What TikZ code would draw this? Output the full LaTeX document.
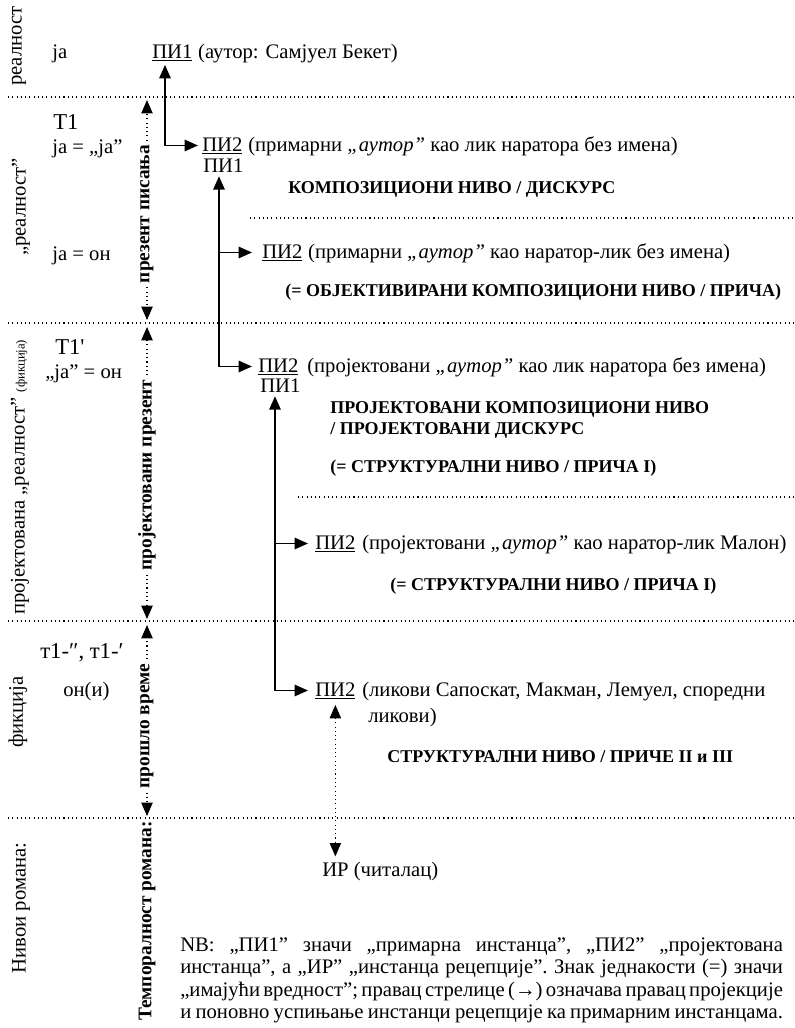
\documentclass[tikz,border=0pt]{standalone}
\usepackage{fontspec}
\setmainfont{Liberation Serif}
\usetikzlibrary{arrows.meta,calc}
\newcommand{\nbline}[1]{{\frenchspacing\spaceskip=0.12em plus 3em minus 0.08em\makebox[452pt][s]{#1}}}
\begin{document}
\begin{tikzpicture}[x=0.75pt,y=-0.75pt,
  txt/.style={font=\fontsize{15.5}{18}\selectfont, inner sep=0pt, anchor=base west},
  big/.style={font=\fontsize{17}{20}\selectfont, inner sep=0pt, anchor=base west},
  bld/.style={font=\fontsize{13.5}{16}\selectfont\bfseries, inner sep=0pt, anchor=base west},
  side/.style={font=\fontsize{15.5}{18}\selectfont, inner sep=0pt, rotate=90},
  axislbl/.style={font=\fontsize{14.5}{17}\selectfont\bfseries, inner ysep=0pt, inner xsep=3pt, rotate=90},
  dotline/.style={line width=0.8pt, dash pattern=on 0.8pt off 2.4pt},
  conn/.style={line width=1.4pt},
  >={Triangle[length=10pt,width=8.5pt]}]
\useasboundingbox (0,0) rectangle (794,1028);

% horizontal dotted separators
\draw[dotline] (8,97) -- (794,97);
\draw[dotline] (250,218) -- (794,218);
\draw[dotline] (8,323) -- (794,323);
\draw[dotline] (298,497) -- (794,497);
\draw[dotline] (8,621) -- (794,621);
\draw[dotline] (8,818) -- (794,818);

% left column: levels
\node[side] (lv1) at (19,46) {реалност};
\node[side] (lv2) at (21,207) {„реалност”};
\node[side, anchor=west] (lv3) at (20,615) {пројектована „реалност” {\fontsize{9.5}{11}\selectfont(фикција)}};
\node[side] (lv4) at (18,712) {фикција};
\node[side] (lv5) at (21,908) {Нивои романа:};

% left column: subjects
\node[txt] (ja1) at (52,58) {ја};
\node[big] (T1) at (53,129) {Т1};
\node[txt] (ja2) at (52,153) {ја = „ја”};
\node[txt] (ja3) at (52,260) {ја = он};
\node[big] (T1p) at (55,354) {Т1\textquotesingle};
\node[txt] (ja4) at (45,378) {„ја” = он};
\node[big] (t1pp) at (40,658) {т1-″, т1-′};
\node[txt] (oni) at (63,696) {он(и)};

% time axis
\node[axislbl] (ax1) at (147,214) {презент писања};
\node[axislbl] (ax2) at (147,475) {пројектовани презент};
\node[axislbl] (ax3) at (147,726) {прошло време};
\node[axislbl] (ax4) at (147,921) {Темпоралност романа:};
\coordinate (ax1t) at (147,100);
\coordinate (ax1b) at (147,320);
\coordinate (ax2t) at (147,327);
\coordinate (ax2b) at (147,619);
\coordinate (ax3t) at (147,625);
\coordinate (ax3b) at (147,816);
\draw[dotline,->] (ax1.east) -- (ax1t);
\draw[dotline,->] (ax1.west) -- (ax1b);
\draw[dotline,->] (ax2.east) -- (ax2t);
\draw[dotline,->] (ax2.west) -- (ax2b);
\draw[dotline,->] (ax3.east) -- (ax3t);
\draw[dotline,->] (ax3.west) -- (ax3b);

% instances
\node[txt] (pi1) at (152,58) {\underline{ПИ1}};
\node[txt] (pi1t) at (pi1.base east) {\ (аутор: Самјуел Бекет)};

\node[txt] (f1n) at (202,151) {\underline{ПИ2}};
\node[txt] (f1d) at (203,172) {ПИ1};
\node[txt] (f1t) at (248,151) {(примарни \textit{„аутор”} као лик наратора без имена)};
\node[bld] (k1) at (288,193) {КОМПОЗИЦИОНИ НИВО / ДИСКУРС};

\node[txt] (p2a) at (262,258) {\underline{ПИ2}};
\node[txt] (p2at) at (p2a.base east) {\ (примарни \textit{„аутор”} као наратор-лик без имена)};
\node[bld] (k2) at (285,296) {(= ОБЈЕКТИВИРАНИ КОМПОЗИЦИОНИ НИВО / ПРИЧА)};

\node[txt] (f2n) at (258,372) {\underline{ПИ2}};
\node[txt] (f2d) at (260,392) {ПИ1};
\node[txt] (f2t) at (307,372) {(пројектовани \textit{„аутор”} као лик наратора без имена)};
\node[bld] (k3a) at (330,413) {ПРОЈЕКТОВАНИ КОМПОЗИЦИОНИ НИВО};
\node[bld] (k3b) at (330,434) {/ ПРОЈЕКТОВАНИ ДИСКУРС};
\node[bld] (k3c) at (330,472) {(= СТРУКТУРАЛНИ НИВО / ПРИЧА I)};

\node[txt] (p2b) at (315,549) {\underline{ПИ2}};
\node[txt] (p2bt) at (362,549) {(пројектовани \textit{„аутор”} као наратор-лик Малон)};
\node[bld] (k4) at (390,590) {(= СТРУКТУРАЛНИ НИВО / ПРИЧА I)};

\node[txt] (p2c) at (315,696) {\underline{ПИ2}};
\node[txt] (p2ct) at (362,696) {(ликови Сапоскат, Макман, Лемуел, споредни};
\node[txt] (p2ct2) at (368,722) {ликови)};
\node[bld] (k5) at (387,762) {СТРУКТУРАЛНИ НИВО / ПРИЧЕ II и III};

\node[txt] (ir) at (322,876) {ИР (читалац)};

% connectors
\coordinate (v1) at (219,0);
\coordinate (v2) at (275,0);
\draw[conn,<->] ($(pi1.south west)+(13,4)$) |- ($(f1n.west)+(-4,0)$);
\draw[conn,<->] ($(v1 |- f1d.south)+(0,4)$) |- ($(f2n.west)+(-6,0)$);
\draw[conn,->] (v1 |- p2a.west) -- ($(p2a.west)+(-10,0)$);
\draw[conn,<->] ($(v2 |- f2d.south)+(0,4)$) |- ($(p2c.west)+(-7,0)$);
\draw[conn,->] (v2 |- p2b.west) -- ($(p2b.west)+(-7,0)$);
\draw[dotline,<->] ($(p2c.south)+(0,6)$) -- ($(p2c.south |- ir.north)+(0,-5)$);

% note
\node[txt] (nb1) at (180,951) {\nbline{NB: „ПИ1” значи „примарна инстанца”, „ПИ2” „пројектована}};
\node[txt] (nb2) at (180,973) {\nbline{инстанца”, а „ИР” „инстанца рецепције”. Знак једнакости (=) значи}};
\node[txt] (nb3) at (180,996) {\nbline{„имајући вредност”; правац стрелице (→) означава правац пројекције}};
\node[txt] (nb4) at (180,1018) {\nbline{и поновно успињање инстанци рецепције ка примарним инстанцама.}};
\end{tikzpicture}
\end{document}
